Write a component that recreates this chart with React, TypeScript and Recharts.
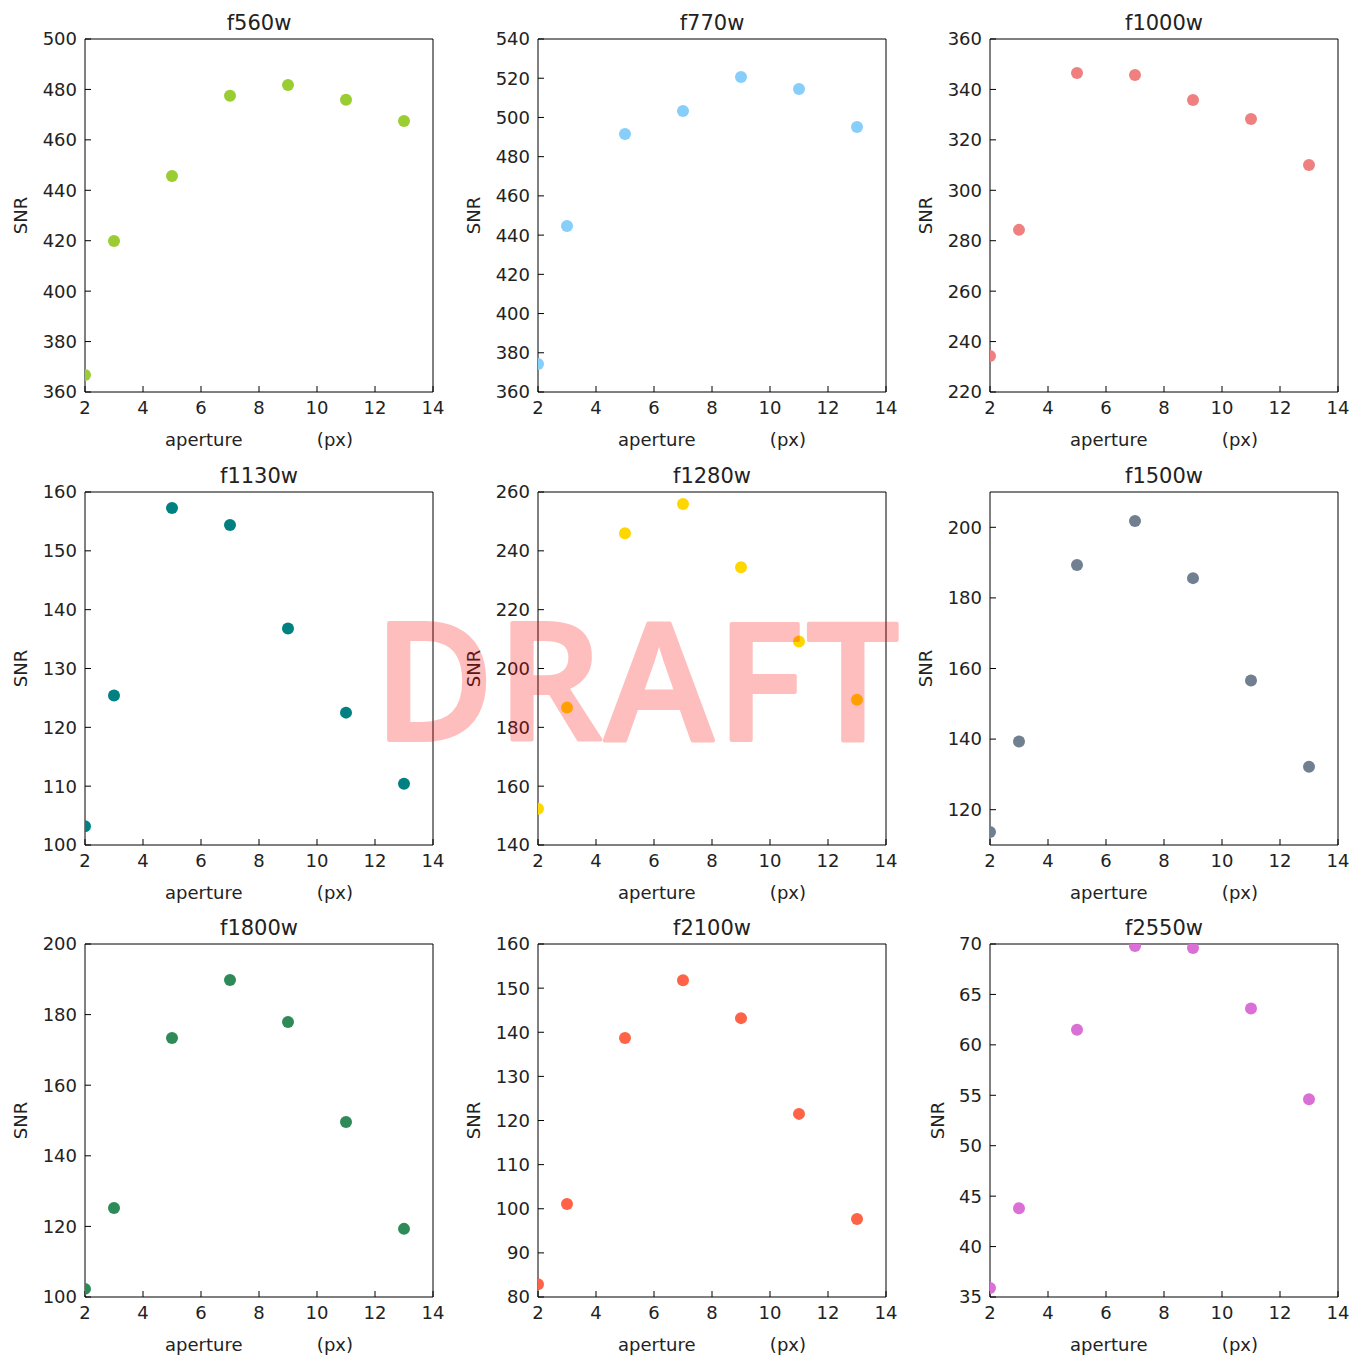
import React from 'react';
import { ScatterChart, Scatter, XAxis, YAxis } from 'recharts';

const apertures = [2, 3, 5, 7, 9, 11, 13];
const apertureTicks = [2, 4, 6, 8, 10, 12, 14];

const f560wSnr = [366.7, 419.9, 445.7, 477.5, 481.8, 475.9, 467.5];
const f770wSnr = [374.3, 444.6, 491.6, 503.3, 520.6, 514.5, 495.1];
const f1000wSnr = [234.3, 284.3, 346.5, 345.7, 335.8, 328.3, 310.0];
const f1130wSnr = [103.2, 125.4, 157.3, 154.4, 136.8, 122.5, 110.4];
const f1280wSnr = [152.3, 186.7, 246.0, 255.9, 234.4, 209.2, 189.4];
const f1500wSnr = [113.7, 139.3, 189.3, 201.8, 185.6, 156.6, 132.2];
const f1800wSnr = [102.3, 125.2, 173.4, 189.8, 177.9, 149.6, 119.3];
const f2100wSnr = [82.9, 101.1, 138.7, 151.8, 143.2, 121.5, 97.7];
const f2550wSnr = [35.9, 43.8, 61.5, 69.8, 69.6, 63.6, 54.6];

const f560wTicks = [360, 380, 400, 420, 440, 460, 480, 500];
const f770wTicks = [360, 380, 400, 420, 440, 460, 480, 500, 520, 540];
const f1000wTicks = [220, 240, 260, 280, 300, 320, 340, 360];
const f1130wTicks = [100, 110, 120, 130, 140, 150, 160];
const f1280wTicks = [140, 160, 180, 200, 220, 240, 260];
const f1500wTicks = [120, 140, 160, 180, 200];
const f1800wTicks = [100, 120, 140, 160, 180, 200];
const f2100wTicks = [80, 90, 100, 110, 120, 130, 140, 150, 160];
const f2550wTicks = [35, 40, 45, 50, 55, 60, 65, 70];

const panels = [
  { title: 'f560w', color: '#9ACD32', values: f560wSnr, domain: [360, 500], ticks: f560wTicks },
  { title: 'f770w', color: '#87CEFA', values: f770wSnr, domain: [360, 540], ticks: f770wTicks },
  { title: 'f1000w', color: '#F08080', values: f1000wSnr, domain: [220, 360], ticks: f1000wTicks },
  { title: 'f1130w', color: '#008080', values: f1130wSnr, domain: [100, 160], ticks: f1130wTicks },
  { title: 'f1280w', color: '#FFD700', values: f1280wSnr, domain: [140, 260], ticks: f1280wTicks },
  { title: 'f1500w', color: '#708090', values: f1500wSnr, domain: [110, 210], ticks: f1500wTicks },
  { title: 'f1800w', color: '#2E8B57', values: f1800wSnr, domain: [100, 200], ticks: f1800wTicks },
  { title: 'f2100w', color: '#FF6347', values: f2100wSnr, domain: [80, 160], ticks: f2100wTicks },
  { title: 'f2550w', color: '#DA70D6', values: f2550wSnr, domain: [35, 70], ticks: f2550wTicks },
];

const FONT = '"DejaVu Sans", sans-serif';
const TEXT = '#222';
const colLeft = [85, 538, 990];
const rowTop = [39, 492, 944];
const XLABEL = 'aperture' + '\u00A0'.repeat(13) + '(px)';

function Panel({ p, idx }: { p: any; idx: number }) {
  const col = idx % 3;
  const row = Math.floor(idx / 3);
  const data = apertures.map((a, i) => ({ aperture: a, snr: p.values[i] }));
  const digits = Math.max(...p.ticks.map((t: number) => String(t).length));
  const left = colLeft[col] - 80;
  const top = rowTop[row] - 39;

  const titleContent = (props: any) => {
    const vb = props.viewBox || {};
    return (
      <text x={vb.x + vb.width / 2} y={vb.y + vb.height - 9} textAnchor="middle" fontSize={21} fontFamily={FONT} fill={TEXT}>
        {p.title}
      </text>
    );
  };
  const xLabelContent = (props: any) => {
    const vb = props.viewBox || {};
    return (
      <text x={vb.x + vb.width / 2} y={vb.y + 54} textAnchor="middle" fontSize={18} fontFamily={FONT} fill={TEXT}>
        {XLABEL}
      </text>
    );
  };
  const yLabelContent = (props: any) => {
    const vb = props.viewBox || {};
    const bx = vb.x + vb.width - 8 - digits * 11.45 - 15.5;
    const cy = vb.y + vb.height / 2;
    return (
      <text x={bx} y={cy} transform={`rotate(-90, ${bx}, ${cy})`} textAnchor="middle" fontSize={18} fontFamily={FONT} fill={TEXT}>
        SNR
      </text>
    );
  };

  const tickStyle = { fontSize: 18, fill: TEXT, fontFamily: FONT };

  return (
    <div style={{ position: 'absolute', left, top, width: 440, height: 452 }}>
      <ScatterChart width={440} height={452} margin={{ top: 38, right: 11, bottom: 0, left: 20 }}>
        <XAxis
          type="number"
          dataKey="aperture"
          domain={[2, 14]}
          ticks={apertureTicks}
          interval={0}
          allowDataOverflow
          height={60}
          tickSize={-6}
          tickMargin={15}
          stroke="#000"
          tick={tickStyle}
          label={{ content: xLabelContent }}
        />
        <XAxis
          xAxisId="top"
          orientation="top"
          type="number"
          dataKey="aperture"
          domain={[2, 14]}
          ticks={apertureTicks}
          interval={0}
          allowDataOverflow
          height={1}
          tickSize={-6}
          stroke="#000"
          tick={false}
          label={{ content: titleContent }}
        />
        <YAxis
          type="number"
          dataKey="snr"
          domain={p.domain}
          ticks={p.ticks}
          interval={0}
          allowDataOverflow
          width={60}
          tickSize={-6}
          tickMargin={14}
          stroke="#000"
          tick={tickStyle}
          label={{ content: yLabelContent }}
        />
        <YAxis
          yAxisId="right"
          orientation="right"
          type="number"
          dataKey="snr"
          domain={p.domain}
          ticks={p.ticks}
          interval={0}
          allowDataOverflow
          width={1}
          tickSize={-6}
          stroke="#000"
          tick={false}
        />
        <Scatter
          data={data}
          xAxisId="top"
          yAxisId="right"
          isAnimationActive={false}
          fill="none"
          shape={() => null}
          legendType="none"
        />
        <Scatter
          data={data}
          isAnimationActive={false}
          fill={p.color}
          shape={(s: any) => <circle cx={s.cx} cy={s.cy} r={6} fill={p.color} />}
        />
      </ScatterChart>
    </div>
  );
}

export default function App() {
  return (
    <div style={{ position: 'absolute', left: 0, top: 0, width: 1351, height: 1357, background: '#fff', overflow: 'hidden' }}>
      {panels.map((p, i) => (
        <Panel key={p.title} p={p} idx={i} />
      ))}
      <svg width={1351} height={1357} style={{ position: 'absolute', left: 0, top: 0, pointerEvents: 'none' }}>
        <g opacity={0.25}>
          <text
            x={638}
            y={740}
            textAnchor="middle"
            fontFamily='"Open Sans", "Noto Sans", sans-serif'
            fontWeight={600}
            fontSize={164}
            letterSpacing={3}
            fill="#FF0000"
            stroke="#FF0000"
            strokeWidth={4}
            strokeLinejoin="round"
          >
            DRAFT
          </text>
        </g>
      </svg>
    </div>
  );
}
